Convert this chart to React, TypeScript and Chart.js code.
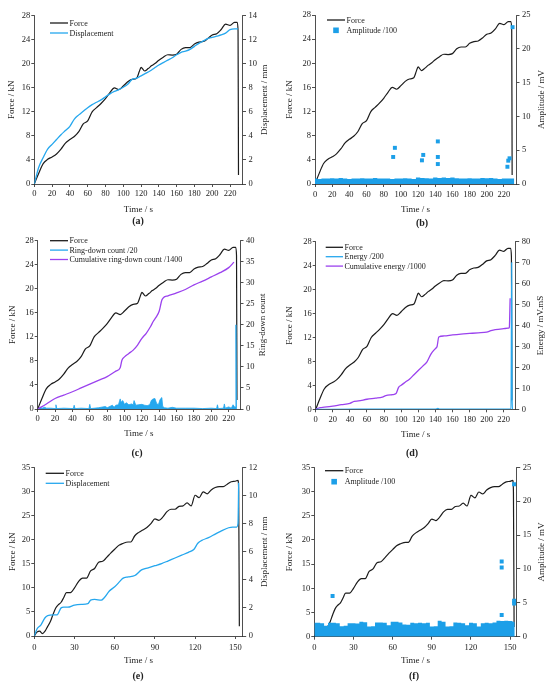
import React, { useEffect, useRef } from "react";
import { Chart, registerables } from "chart.js";

Chart.register(...registerables);

const SERIF = '"Liberation Serif", "Times New Roman", serif';
const INK = "#222222";
const BLACK = "#1c1c1c";
const BLUE = "#25a7ee";
const AMP = "#1c9fe8";
const PURPLE = "#9b42ee";
const TICK_SIZE = 8.5;
const TITLE_SIZE = 9;
const LEGEND_SIZE = 8;

// ---------- tick labels ----------
const timeTicks230 = [0, 20, 40, 60, 80, 100, 120, 140, 160, 180, 200, 220];
const timeTicks150 = [0, 30, 60, 90, 120, 150];
const forceTicks28 = [0, 4, 8, 12, 16, 20, 24, 28];
const forceTicks35 = [0, 5, 10, 15, 20, 25, 30, 35];
const dispTicks14 = [0, 2, 4, 6, 8, 10, 12, 14];
const dispTicks12 = [0, 2, 4, 6, 8, 10, 12];
const ampTicks25 = [0, 5, 10, 15, 20, 25];
const ringTicks40 = [0, 5, 10, 15, 20, 25, 30, 35, 40];
const energyTicks80 = [0, 10, 20, 30, 40, 50, 60, 70, 80];

// ---------- specimen 1 (a-d) ----------
const forceTime1 = [0, 5, 10, 15, 20, 25, 30, 35, 40, 45, 50, 55, 60, 65, 70, 75, 80, 85, 90, 95, 100, 105, 110, 115, 118, 120, 124, 128, 132, 136, 140, 145, 150, 155, 160, 165, 170, 175, 180, 185, 190, 195, 200, 205, 210, 215, 220, 225, 228, 229, 229.5];
const force1 = [0, 1.8, 3.4, 4.1, 4.5, 5.0, 5.8, 6.8, 7.4, 7.9, 8.7, 10.0, 10.5, 12.0, 12.7, 13.4, 14.2, 15.2, 16.0, 15.7, 16.3, 17.0, 17.4, 17.6, 18.7, 19.4, 18.8, 19.2, 19.7, 20.1, 20.6, 21.1, 21.5, 21.45, 21.6, 22.4, 22.7, 22.7, 23.3, 23.6, 23.7, 24.2, 24.8, 25.0, 25.7, 26.6, 26.4, 26.9, 26.9, 25.5, 1.5];

const dispTime1 = [0, 5, 10, 15, 20, 25, 30, 35, 40, 45, 50, 55, 60, 65, 70, 75, 80, 85, 90, 95, 100, 105, 110, 115, 120, 125, 130, 135, 140, 145, 150, 155, 160, 165, 170, 175, 180, 185, 190, 195, 200, 205, 210, 215, 220, 225, 229];
const disp1 = [0, 1.4, 2.2, 2.9, 3.3, 3.7, 4.1, 4.45, 4.8, 5.4, 5.75, 6.05, 6.35, 6.6, 6.8, 7.0, 7.25, 7.5, 7.7, 7.85, 8.05, 8.3, 8.7, 8.8, 9.0, 9.2, 9.4, 9.65, 9.9, 10.1, 10.3, 10.5, 10.75, 10.95, 11.05, 11.2, 11.45, 11.7, 11.9, 12.1, 12.2, 12.3, 12.4, 12.55, 12.85, 12.9, 12.9];

const ampBandTime1 = [0, 5, 10, 15, 20, 25, 30, 35, 40, 45, 50, 55, 60, 65, 70, 75, 80, 85, 90, 95, 100, 105, 110, 115, 120, 125, 130, 135, 140, 145, 150, 155, 160, 165, 170, 175, 180, 185, 190, 195, 200, 205, 210, 215, 220, 225, 232];
const ampBand1 = [0.8, 0.75, 0.8, 0.8, 0.85, 0.8, 0.9, 0.8, 0.75, 0.8, 0.8, 0.85, 0.8, 0.8, 0.9, 0.8, 0.8, 0.8, 0.75, 0.8, 0.8, 0.85, 0.8, 0.75, 0.95, 0.9, 0.85, 0.8, 0.95, 0.9, 0.95, 0.9, 0.95, 0.85, 0.8, 0.8, 0.85, 0.8, 0.8, 0.9, 0.85, 0.9, 0.8, 0.75, 0.8, 0.8, 0.8];
const ampPtTime1 = [91, 93, 124.5, 126, 143, 143, 143, 224, 225, 226.5, 230];
const ampPt1 = [4.0, 5.35, 3.5, 4.3, 6.3, 4.0, 2.95, 2.55, 3.45, 3.8, 23.2];

const ringTime1 = [0, 3, 5, 8, 10, 15, 20, 21, 22, 30, 41, 42, 43, 50, 59, 60, 61, 70, 78, 80, 86, 88, 90, 93, 95, 96, 98, 100, 102, 105, 108, 110, 111, 113, 116, 120, 123, 126, 129, 131, 133, 135, 137, 139, 141, 142, 143, 144, 146, 150, 155, 160, 170, 180, 190, 200, 206, 207, 208, 214, 215, 216, 220, 223, 225, 227, 228, 228.3, 229];
const ring1 = [0, 0.3, 0.2, 0.4, 0.2, 0.2, 0.1, 1.0, 0.1, 0.2, 0.1, 0.9, 0.1, 0.2, 0.1, 1.1, 0.1, 0.3, 0.6, 0.3, 0.9, 0.4, 0.9, 1.0, 2.4, 1.6, 2.0, 1.1, 1.5, 1.0, 1.2, 1.0, 2.0, 0.9, 1.0, 1.1, 0.9, 0.8, 1.0, 2.1, 2.4, 2.5, 1.3, 1.0, 2.3, 2.6, 2.7, 0.6, 0.3, 0.2, 0.4, 0.2, 0.2, 0.2, 0.1, 0.2, 0.1, 1.0, 0.1, 0.2, 1.2, 0.2, 0.5, 0.2, 1.0, 0.4, 0.5, 20, 0];

const cumRingTime1 = [0, 10, 20, 30, 40, 50, 60, 70, 80, 90, 95, 97, 100, 105, 110, 115, 120, 125, 130, 133, 136, 140, 143, 145, 150, 160, 170, 180, 190, 200, 210, 220, 226];
const cumRing1 = [0, 1.2, 2.5, 3.3, 4.1, 5.0, 5.9, 6.8, 7.7, 9.0, 9.8, 11.6, 12.4, 13.2, 14.0, 15.2, 16.8, 18.0, 19.6, 20.8, 21.7, 23.3, 25.9, 26.5, 26.9, 27.6, 28.4, 29.5, 30.4, 31.4, 32.4, 33.6, 34.9];

const energyTime1 = [0, 50, 100, 140, 143, 145, 200, 228.5, 229.3, 229.8, 230.2];
const energy1 = [0, 0.05, 0.1, 0.1, 0.4, 0.1, 0.1, 0.2, 70, 5, 0];

const cumEnergyTime1 = [0, 5, 10, 20, 30, 40, 45, 50, 60, 70, 78, 82, 90, 94, 97, 100, 105, 110, 115, 120, 125, 130, 135, 140, 142, 144, 150, 160, 170, 180, 190, 200, 205, 210, 220, 225, 226.5, 227.5];
const cumEnergy1 = [0, 0.8, 1.0, 1.5, 2.2, 2.8, 3.8, 4.0, 4.8, 5.3, 5.8, 6.5, 7.0, 7.5, 10.5, 11.5, 13.0, 14.5, 16.5, 18.5, 20.5, 22.5, 26.5, 29.0, 30.0, 34.5, 35.0, 35.5, 35.9, 36.2, 36.5, 36.8, 37.5, 38.0, 38.5, 38.7, 39.0, 53.0];

// ---------- specimen 2 (e-f) ----------
const forceTime2 = [0, 2, 4, 6, 8, 10, 12, 14, 16, 18, 20, 22, 24, 27, 30, 33, 36, 39, 42, 45, 48, 51, 54, 57, 60, 63, 66, 70, 72, 75, 78, 81, 84, 87, 90, 93, 96, 99, 102, 105, 108, 111, 114, 117, 120, 123, 126, 129, 132, 135, 138, 141, 144, 147, 150, 152, 152.5, 153];
const force2 = [0, 0.8, 1.0, 0.5, 1.0, 2.0, 3.0, 4.5, 5.8, 6.5, 7.0, 8.0, 9.0, 9.0, 10.0, 11.3, 12.0, 12.0, 13.5, 14.0, 15.3, 15.5, 16.3, 17.2, 18.0, 18.8, 19.2, 19.5, 19.5, 20.8, 21.5, 22.0, 22.5, 23.3, 24.3, 24.0, 24.7, 25.8, 26.3, 26.3, 26.9, 27.0, 27.6, 27.0, 29.2, 28.7, 29.9, 29.5, 30.3, 30.8, 31.0, 31.0, 31.5, 32.0, 32.1, 32.3, 30.0, 2.0];

const dispTime2 = [0, 2, 5, 8, 10, 14, 17, 20, 22, 25, 30, 35, 40, 42, 45, 50, 52, 56, 60, 64, 66, 70, 75, 80, 85, 90, 95, 100, 105, 110, 115, 119, 122, 125, 130, 135, 140, 145, 148, 151, 152, 152.5];
const disp2 = [0, 0.5, 0.8, 1.3, 1.45, 1.5, 1.5, 2.0, 2.05, 2.05, 2.2, 2.25, 2.3, 2.55, 2.6, 2.55, 2.7, 3.2, 3.5, 3.9, 4.1, 4.2, 4.3, 4.7, 4.85, 5.0, 5.15, 5.35, 5.55, 5.75, 5.95, 6.15, 6.6, 6.8, 7.0, 7.25, 7.5, 7.7, 7.75, 7.75, 8.0, 10.9];

const ampBandTime2 = [0, 3, 6, 9, 12, 15, 18, 21, 24, 27, 30, 33, 36, 39, 42, 45, 48, 51, 54, 57, 60, 63, 66, 69, 72, 75, 78, 81, 84, 87, 90, 93, 96, 99, 102, 105, 108, 111, 114, 117, 120, 123, 126, 129, 132, 135, 138, 141, 144, 147, 150, 153.5];
const ampBand2 = [2.05, 2.05, 2.0, 1.6, 2.05, 2.05, 2.0, 1.55, 1.6, 2.0, 2.0, 1.95, 2.2, 2.15, 1.5, 1.55, 2.1, 2.1, 2.05, 1.7, 2.2, 2.2, 2.1, 1.8, 1.75, 2.05, 2.0, 2.05, 2.0, 2.05, 1.5, 1.55, 2.35, 2.2, 1.5, 1.55, 2.1, 2.05, 2.0, 1.7, 2.05, 2.0, 1.5, 2.0, 2.05, 2.0, 2.1, 2.35, 2.3, 2.35, 2.3, 2.2];
const ampPtTime2 = [14, 143.5, 143.5, 143.5, 153, 153, 153];
const ampPt2 = [6.0, 11.1, 10.2, 3.2, 22.5, 5.3, 4.9];

// ---------- types & helpers ----------
type Series = {
  kind: "line" | "area" | "band" | "points";
  label: string;
  xs: number[];
  ys: number[];
  color: string;
  axis: "y" | "y2";
  order: number;
  width?: number;
  legend: boolean;
};

type PanelCfg = {
  left: number;
  top: number;
  geom: { l: number; r: number; t: number; b: number };
  xMax: number;
  xTicks: number[];
  yMax: number;
  yTicks: number[];
  y2Max: number;
  y2Ticks: number[];
  leftTitleX: number;
  xTitleY: number;
  xLabelPad: number;
  rightTitle: string;
  rightTitleX: number;
  legend: { x: number; y: number; gap: number; len: number };
  caption: { text: string; x: number; y: number };
  series: Series[];
};

const W = 275;
const H = 215;

function buildDataset(s: Series): any {
  const data = s.xs.map((x, i) => ({ x, y: s.ys[i] }));
  const base: any = {
    type: "line",
    label: s.label,
    data,
    yAxisID: s.axis,
    order: s.order,
    legendShape: s.legend ? (s.kind === "points" ? "square" : "line") : null,
    legendColor: s.color,
  };
  if (s.kind === "line") {
    return { ...base, borderColor: s.color, backgroundColor: s.color, borderWidth: s.width ?? 1.2, pointRadius: 0, cubicInterpolationMode: "monotone", fill: false };
  }
  if (s.kind === "area") {
    return { ...base, borderColor: s.color, backgroundColor: s.color, borderWidth: 0.8, pointRadius: 0, tension: 0, fill: "origin" };
  }
  if (s.kind === "band") {
    return { ...base, borderColor: s.color, backgroundColor: s.color, borderWidth: 0, pointRadius: 0, stepped: "middle", fill: "origin" };
  }
  return { ...base, showLine: false, pointStyle: "rect", pointRadius: 2.8, pointBackgroundColor: s.color, pointBorderWidth: 0, backgroundColor: s.color, borderColor: s.color };
}

function axisBase(tickLen: number, pad: number) {
  return {
    type: "linear",
    min: 0,
    border: { display: true, color: INK, width: 0.8 },
    grid: { display: true, drawOnChartArea: false, drawTicks: true, tickLength: tickLen, color: INK, lineWidth: 0.8 },
    ticks: { color: INK, font: { family: SERIF, size: TICK_SIZE }, padding: pad, autoSkip: false, maxRotation: 0, minRotation: 0 },
  };
}

function Panel({ cfg }: { cfg: PanelCfg }) {
  const ref = useRef<HTMLCanvasElement>(null);
  useEffect(() => {
    const g = cfg.geom;
    const overlay = {
      id: "overlay",
      afterDatasetsDraw(chart: any) {
        const ctx = chart.ctx;
        const ca = chart.chartArea;
        ctx.save();
        ctx.fillStyle = INK;
        ctx.font = `${TITLE_SIZE}px ${SERIF}`;
        ctx.textAlign = "center";
        ctx.textBaseline = "middle";
        ctx.translate(cfg.rightTitleX, (ca.top + ca.bottom) / 2);
        ctx.rotate(-Math.PI / 2);
        ctx.fillText(cfg.rightTitle, 0, 0);
        ctx.restore();

        ctx.save();
        ctx.font = `${LEGEND_SIZE}px ${SERIF}`;
        ctx.textAlign = "left";
        ctx.textBaseline = "middle";
        let row = 0;
        chart.data.datasets.forEach((ds: any) => {
          if (!ds.legendShape) return;
          const y = cfg.legend.y + row * cfg.legend.gap;
          const x0 = cfg.legend.x;
          if (ds.legendShape === "line") {
            ctx.strokeStyle = ds.legendColor;
            ctx.lineWidth = 1.3;
            ctx.beginPath();
            ctx.moveTo(x0, y);
            ctx.lineTo(x0 + cfg.legend.len, y);
            ctx.stroke();
          } else {
            ctx.fillStyle = ds.legendColor;
            const c = x0 + cfg.legend.len / 2;
            ctx.fillRect(c - 2.8, y - 2.8, 5.6, 5.6);
          }
          ctx.fillStyle = INK;
          ctx.fillText(ds.label, x0 + cfg.legend.len + 1.5, y + 0.5);
          row++;
        });
        ctx.restore();
      },
    };

    const xAxis: any = axisBase(3, cfg.xLabelPad);
    xAxis.max = cfg.xMax;
    xAxis.position = "bottom";
    xAxis.afterFit = (s: any) => { s.height = H - g.b; };
    xAxis.afterBuildTicks = (s: any) => { s.ticks = cfg.xTicks.map((v) => ({ value: v })); };
    xAxis.title = { display: true, text: "Time / s", color: INK, font: { family: SERIF, size: TITLE_SIZE }, padding: { top: 0, bottom: H - cfg.xTitleY - (TITLE_SIZE * 1.2) / 2 } };

    const yAxis: any = axisBase(3, 1);
    yAxis.max = cfg.yMax;
    yAxis.position = "left";
    yAxis.afterFit = (s: any) => { s.width = g.l; };
    yAxis.afterBuildTicks = (s: any) => { s.ticks = cfg.yTicks.map((v) => ({ value: v })); };
    yAxis.title = { display: true, text: "Force / kN", color: INK, font: { family: SERIF, size: TITLE_SIZE }, padding: { top: cfg.leftTitleX - (TITLE_SIZE * 1.2) / 2, bottom: 0 } };

    const y2Axis: any = axisBase(3.5, 2.5);
    y2Axis.max = cfg.y2Max;
    y2Axis.position = "right";
    y2Axis.afterFit = (s: any) => { s.width = W - g.r; };
    y2Axis.afterBuildTicks = (s: any) => { s.ticks = cfg.y2Ticks.map((v) => ({ value: v })); };

    const chart = new Chart(ref.current as HTMLCanvasElement, {
      type: "line",
      data: { datasets: cfg.series.map(buildDataset) },
      options: {
        responsive: false,
        animation: false,
        events: [],
        layout: { padding: { top: g.t, left: 0, right: 0, bottom: 0 } },
        plugins: { legend: { display: false }, tooltip: { enabled: false }, title: { display: false } },
        scales: { x: xAxis, y: yAxis, y2: y2Axis },
      } as any,
      plugins: [overlay],
    } as any);
    return () => chart.destroy();
  }, [cfg]);

  return (
    <>
      <canvas
        ref={ref}
        width={W}
        height={H}
        style={{ position: "absolute", left: cfg.left, top: cfg.top, width: W, height: H }}
      />
      <div
        style={{
          position: "absolute",
          left: cfg.caption.x,
          top: cfg.caption.y,
          transform: "translate(-50%, -50%)",
          font: `bold 10px ${SERIF}`,
          color: INK,
          whiteSpace: "nowrap",
        }}
      >
        {cfg.caption.text}
      </div>
    </>
  );
}

const forceLine1: Series = { kind: "line", label: "Force", xs: forceTime1, ys: force1, color: BLACK, axis: "y", order: 5, legend: true };
const forceLine2: Series = { kind: "line", label: "Force", xs: forceTime2, ys: force2, color: BLACK, axis: "y", order: 5, legend: true };

const panels: PanelCfg[] = [
  {
    left: 0, top: 0,
    geom: { l: 34.3, r: 242.5, t: 15.7, b: 184 },
    xMax: 234, xTicks: timeTicks230, yMax: 28, yTicks: forceTicks28, y2Max: 14, y2Ticks: dispTicks14,
    leftTitleX: 11.7, xTitleY: 209.3, xLabelPad: 1.5,
    rightTitle: "Displacement / mm", rightTitleX: 265,
    legend: { x: 50, y: 23, gap: 10, len: 18 },
    caption: { text: "(a)", x: 138, y: 220 },
    series: [
      forceLine1,
      { kind: "line", label: "Displacement", xs: dispTime1, ys: disp1, color: BLUE, axis: "y2", order: 1, width: 1.3, legend: true },
    ],
  },
  {
    left: 275, top: 0,
    geom: { l: 40, r: 241, t: 15, b: 184 },
    xMax: 234, xTicks: timeTicks230, yMax: 28, yTicks: forceTicks28, y2Max: 25, y2Ticks: ampTicks25,
    leftTitleX: 15, xTitleY: 209.3, xLabelPad: 2.2,
    rightTitle: "Amplitude / mV", rightTitleX: 267,
    legend: { x: 52, y: 20, gap: 10.3, len: 18 },
    caption: { text: "(b)", x: 422, y: 222 },
    series: [
      forceLine1,
      { kind: "points", label: "Amplitude /100", xs: ampPtTime1, ys: ampPt1, color: AMP, axis: "y2", order: 0, legend: true },
      { kind: "band", label: "Amplitude /100", xs: ampBandTime1, ys: ampBand1, color: AMP, axis: "y2", order: 1, legend: false },
    ],
  },
  {
    left: 0, top: 225,
    geom: { l: 37.7, r: 240, t: 15.7, b: 184 },
    xMax: 233, xTicks: timeTicks230, yMax: 28, yTicks: forceTicks28, y2Max: 40, y2Ticks: ringTicks40,
    leftTitleX: 12.7, xTitleY: 209, xLabelPad: 1.5,
    rightTitle: "Ring-down count", rightTitleX: 263,
    legend: { x: 50, y: 15.7, gap: 9.4, len: 18 },
    caption: { text: "(c)", x: 137, y: 452 },
    series: [
      forceLine1,
      { kind: "area", label: "Ring-down count /20", xs: ringTime1, ys: ring1, color: BLUE, axis: "y2", order: 2, legend: true },
      { kind: "line", label: "Cumulative ring-down count /1400", xs: cumRingTime1, ys: cumRing1, color: PURPLE, axis: "y2", order: 1, width: 1.3, legend: true },
    ],
  },
  {
    left: 275, top: 225,
    geom: { l: 40.7, r: 240.7, t: 16.7, b: 184.3 },
    xMax: 234, xTicks: timeTicks230, yMax: 28, yTicks: forceTicks28, y2Max: 80, y2Ticks: energyTicks80,
    leftTitleX: 15, xTitleY: 210, xLabelPad: 2.2,
    rightTitle: "Energy / mV.mS", rightTitleX: 266,
    legend: { x: 50.7, y: 22.3, gap: 9.4, len: 17.3 },
    caption: { text: "(d)", x: 412, y: 452 },
    series: [
      forceLine1,
      { kind: "line", label: "Energy /200", xs: energyTime1, ys: energy1, color: BLUE, axis: "y2", order: 0, width: 1.2, legend: true },
      { kind: "line", label: "Cumulative energy /1000", xs: cumEnergyTime1, ys: cumEnergy1, color: PURPLE, axis: "y2", order: 1, width: 1.3, legend: true },
    ],
  },
  {
    left: 0, top: 455,
    geom: { l: 34.3, r: 242.7, t: 12.3, b: 181 },
    xMax: 155.5, xTicks: timeTicks150, yMax: 35, yTicks: forceTicks35, y2Max: 12, y2Ticks: dispTicks12,
    leftTitleX: 12.7, xTitleY: 205.7, xLabelPad: 3.5,
    rightTitle: "Displacement / mm", rightTitleX: 265,
    legend: { x: 45.7, y: 18.3, gap: 10, len: 18.3 },
    caption: { text: "(e)", x: 138, y: 675 },
    series: [
      forceLine2,
      { kind: "line", label: "Displacement", xs: dispTime2, ys: disp2, color: BLUE, axis: "y2", order: 1, width: 1.3, legend: true },
    ],
  },
  {
    left: 275, top: 455,
    geom: { l: 39.3, r: 241.7, t: 12.3, b: 181.7 },
    xMax: 155, xTicks: timeTicks150, yMax: 35, yTicks: forceTicks35, y2Max: 25, y2Ticks: ampTicks25,
    leftTitleX: 15, xTitleY: 205.7, xLabelPad: 3,
    rightTitle: "Amplitude / mV", rightTitleX: 267,
    legend: { x: 50, y: 15.7, gap: 11, len: 18.3 },
    caption: { text: "(f)", x: 414, y: 675 },
    series: [
      forceLine2,
      { kind: "points", label: "Amplitude /100", xs: ampPtTime2, ys: ampPt2, color: AMP, axis: "y2", order: 0, legend: true },
      { kind: "band", label: "Amplitude /100", xs: ampBandTime2, ys: ampBand2, color: AMP, axis: "y2", order: 1, legend: false },
    ],
  },
];

export default function App() {
  return (
    <div style={{ position: "absolute", left: 0, top: 0, width: 550, height: 688, background: "#ffffff", overflow: "hidden" }}>
      {panels.map((p, i) => (
        <Panel key={i} cfg={p} />
      ))}
    </div>
  );
}
